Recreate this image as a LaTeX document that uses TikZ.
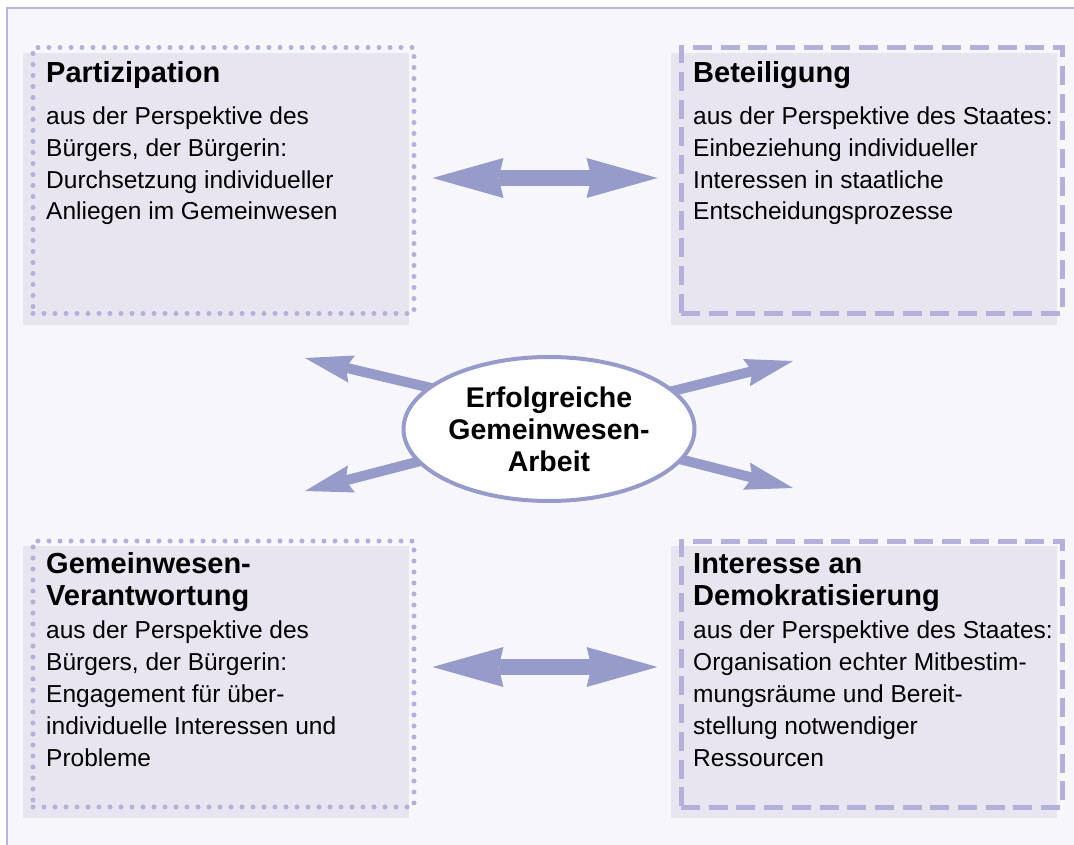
\documentclass[tikz,border=0pt]{standalone}
\usepackage{fontspec}
\setmainfont{Liberation Sans}
\usetikzlibrary{arrows.meta,backgrounds,shapes.geometric}
\definecolor{seite}{HTML}{F7F7FB}
\definecolor{linie}{HTML}{B9B7DD}
\definecolor{feldfarbe}{HTML}{E8E5F0}
\definecolor{randfarbe}{HTML}{B3B1D9}
\definecolor{pfeilfarbe}{HTML}{979BC9}
\tikzstyle{feld} = [fill=feldfarbe, minimum width=386pt, minimum height=272pt, inner sep=0pt]
\tikzstyle{rand} = [draw=randfarbe, minimum width=381pt, minimum height=266pt, inner sep=0pt]
\tikzstyle{punkte} = [rand, line width=5pt, line cap=round, dash pattern=on 0pt off 11pt]
\tikzstyle{striche} = [rand, line width=5pt, dash pattern=on 19pt off 8.7pt]
% base = Grundlinie der letzten Zeile
\tikzstyle{titel} = [anchor=base west, align=left, inner sep=0pt, font={\fontsize{29}{32}\selectfont\bfseries}]
\tikzstyle{inhalt} = [anchor=base west, align=left, inner sep=0pt, font={\fontsize{24.5}{31.8}\selectfont}]
\tikzstyle{ziel} = [ellipse, draw=pfeilfarbe, line width=4pt, fill=white, minimum width=291pt, minimum height=144pt, inner sep=0pt, align=center, font={\fontsize{28.5}{32}\selectfont\bfseries}]
\tikzstyle{doppelpfeil} = [draw=pfeilfarbe, line width=16pt, {Stealth[length=71pt,width=40pt,inset=5pt,line width=0pt]}-{Stealth[length=71pt,width=40pt,inset=5pt,line width=0pt]}]
\tikzstyle{pfeil} = [draw=pfeilfarbe, line width=10pt, -{Stealth[length=48pt,width=28pt,inset=6pt,line width=0pt]}]

\begin{document}
\begin{tikzpicture}[x=1pt,y=-1pt]
  \useasboundingbox (0,0) rectangle (1074,845);
  \draw[linie, line width=1.5pt] (1074,8) -- (7,8) -- (7,845);
  % Felder
  \node[feld](p) at (216,189){};
  \node[feld](b) at (864,189){};
  \node[feld](g) at (216,682){};
  \node[feld](d) at (864,682){};
  \node[punkte](pr) at (223.5,180.5){};
  \node[striche](br) at (871.5,180.5){};
  \node[punkte](gr) at (223.5,674){};
  \node[striche](dr) at (871.5,674){};
  % Texte
  \node[titel](pt) at (46,83){Partizipation};
  \node[inhalt](px) at (46,220){aus der Perspektive des\\Bürgers, der Bürgerin:\\Durchsetzung individueller\\Anliegen im Gemeinwesen};
  \node[titel](bt) at (693,83){Beteiligung};
  \node[inhalt](bx) at (693,220){aus der Perspektive des Staates:\\Einbeziehung individueller\\Interessen in staatliche\\Entscheidungsprozesse};
  \node[titel](gt) at (46,605){Gemeinwesen-\\Verantwortung};
  \node[inhalt](gx) at (46,766){aus der Perspektive des\\Bürgers, der Bürgerin:\\Engagement für über-\\individuelle Interessen und\\Probleme};
  \node[titel](dt) at (693,605){Interesse an\\Demokratisierung};
  \node[inhalt](dx) at (693,766){aus der Perspektive des Staates:\\Organisation echter Mitbestim-\\mungsräume und Bereit-\\stellung notwendiger\\Ressourcen};
  % Mitte
  \node[ziel](z) at (549,429){Erfolgreiche\\Gemeinwesen-\\Arbeit};
  \coordinate (lo) at (305,358);
  \coordinate (ro) at (793,361);
  \coordinate (lu) at (305,491);
  \coordinate (ru) at (793,488);
  \begin{scope}[on background layer]
    \fill[seite] (7,8) rectangle (1074,845);
    \draw[pfeil, shorten <=-20pt](z.161) -- (lo);
    \draw[pfeil, shorten <=-20pt](z.17.5) -- (ro);
    \draw[pfeil, shorten <=-20pt](z.194) -- (lu);
    \draw[pfeil, shorten <=-20pt](z.347) -- (ru);
  \end{scope}
  \draw[doppelpfeil, shorten <=16pt, shorten >=21pt]([yshift=2.5pt]pr.east) -- ([yshift=2.5pt]br.west);
  \draw[doppelpfeil, shorten <=16pt, shorten >=21pt]([yshift=7pt]gr.east) -- ([yshift=7pt]dr.west);
\end{tikzpicture}
\end{document}
